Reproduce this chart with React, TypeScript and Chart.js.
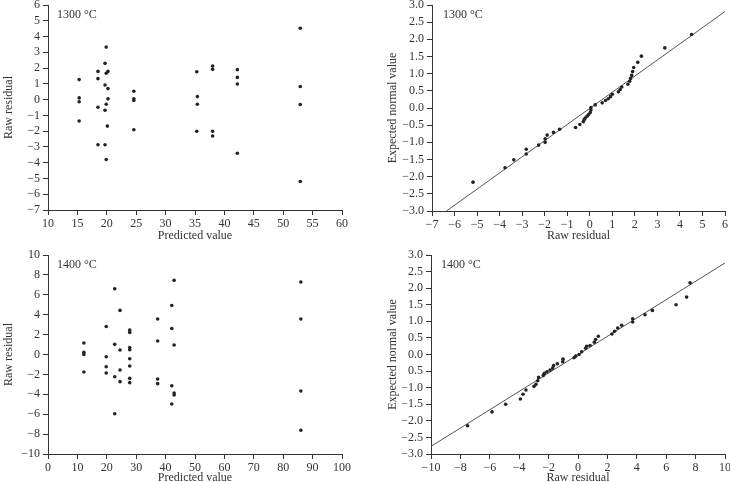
import React, { useEffect, useRef } from "react";
import { Chart, registerables } from "chart.js";
Chart.register(...registerables);

// ---- Panel 1: 1300 °C residual vs predicted ----
const p1X = [15.3, 15.3, 15.3, 15.3, 18.5, 18.5, 18.5, 18.5, 19.9, 19.7, 19.9, 20.2, 19.7, 20.2, 20.2, 19.9, 19.7, 20.1, 19.7, 19.9, 24.6, 24.6, 24.6, 24.6, 35.3, 35.4, 35.4, 35.3, 38.0, 38.0, 38.0, 38.0, 42.2, 42.2, 42.2, 42.2, 52.9, 52.9, 52.9, 52.9];
const p1Y = [1.27, 0.11, -0.14, -1.36, 1.79, 1.33, -0.48, -2.86, 3.33, 2.30, 1.67, 1.79, 0.93, 0.70, 0.05, -0.29, -0.67, -1.68, -2.86, -3.80, 0.53, 0.05, -0.06, -1.91, 1.77, 0.19, -0.29, -2.01, 2.13, 1.92, -2.01, -2.31, 1.90, 1.41, 0.99, -3.40, 4.53, 0.83, -0.31, -5.19];
const p1XTicks = ["10", "15", "20", "25", "30", "35", "40", "45", "50", "55", "60"];
const p1YTicks = ["−7", "−6", "−5", "−4", "−3", "−2", "−1", "0", "1", "2", "3", "4", "5", "6"];

// ---- Panel 2: 1300 °C normal probability plot ----
const p2X = [-5.18, -3.76, -3.37, -2.82, -2.82, -2.27, -1.98, -1.98, -1.89, -1.61, -1.34, -0.63, -0.44, -0.29, -0.25, -0.20, -0.12, -0.05, 0.02, 0.05, 0.05, 0.24, 0.55, 0.70, 0.82, 0.92, 1.00, 1.27, 1.35, 1.42, 1.69, 1.77, 1.81, 1.86, 1.90, 1.95, 2.13, 2.29, 3.33, 4.52];
const p2Y = [-2.16, -1.74, -1.51, -1.34, -1.20, -1.08, -1.00, -0.90, -0.79, -0.71, -0.62, -0.57, -0.48, -0.40, -0.34, -0.29, -0.24, -0.19, -0.13, -0.06, 0.01, 0.09, 0.15, 0.22, 0.27, 0.33, 0.40, 0.47, 0.54, 0.61, 0.69, 0.78, 0.86, 0.95, 1.06, 1.18, 1.33, 1.51, 1.75, 2.14];
const p2LineX = [-6.36, 6.0];
const p2LineY = [-3.0, 2.81];
const p2XTicks = ["−7", "−6", "−5", "−4", "−3", "−2", "−1", "0", "1", "2", "3", "4", "5", "6"];
const p2YTicks = ["−3.0", "−2.5", "−2.0", "−1.5", "−1.0", "−0.5", "0.0", "0.5", "1.0", "1.5", "2.0", "2.5", "3.0"];

// ---- Panel 3: 1400 °C residual vs predicted ----
const p3X = [12.2, 12.2, 12.2, 12.2, 19.8, 19.8, 19.8, 19.8, 22.7, 22.7, 22.7, 22.7, 24.5, 24.5, 24.5, 24.5, 27.8, 27.8, 27.8, 27.8, 27.8, 27.8, 27.8, 27.8, 37.3, 37.3, 37.3, 37.3, 42.1, 42.1, 42.1, 42.1, 42.9, 42.9, 42.9, 42.9, 86.0, 86.0, 86.0, 86.0];
const p3Y = [1.16, 0.21, 0.01, -1.76, 2.82, -0.22, -1.23, -1.86, 6.61, 1.02, -2.23, -5.95, 4.43, 0.45, -1.56, -2.73, 2.46, 2.22, 0.71, 0.48, -0.42, -1.16, -2.40, -2.83, 3.57, 1.36, -2.46, -2.93, 4.93, 2.62, -3.14, -4.97, 7.45, 0.95, -3.87, -4.07, 7.29, 3.57, -3.67, -7.62];
const p3XTicks = ["0", "10", "20", "30", "40", "50", "60", "70", "80", "90", "100"];
const p3YTicks = ["−10", "−8", "−6", "−4", "−2", "0", "2", "4", "6", "8", "10"];

// ---- Panel 4: 1400 °C normal probability plot ----
const p4X = [-7.51, -5.85, -4.92, -3.92, -3.74, -3.54, -2.99, -2.86, -2.74, -2.68, -2.36, -2.29, -2.11, -1.90, -1.72, -1.66, -1.41, -1.04, -1.02, -0.27, -0.16, 0.07, 0.25, 0.52, 0.59, 0.82, 1.11, 1.20, 1.38, 2.31, 2.49, 2.70, 2.97, 3.72, 3.72, 4.56, 5.06, 6.67, 7.39, 7.62];
const p4Y = [-2.15, -1.73, -1.50, -1.34, -1.20, -1.07, -0.96, -0.90, -0.79, -0.69, -0.63, -0.57, -0.52, -0.47, -0.41, -0.33, -0.28, -0.22, -0.14, -0.10, -0.05, 0.00, 0.08, 0.19, 0.25, 0.27, 0.37, 0.45, 0.55, 0.62, 0.70, 0.80, 0.88, 0.98, 1.08, 1.20, 1.33, 1.50, 1.73, 2.16];
const p4LineX = [-10, 10];
const p4LineY = [-2.77, 2.76];
const p4XTicks = ["−10", "−8", "−6", "−4", "−2", "0", "2", "4", "6", "8", "10"];
const p4YTicks = ["−3.0", "−2.5", "−2.0", "−1.5", "−1.0", "0.5", "0.0", "0.5", "1.0", "1.5", "2.0", "2.5", "3.0"];

const FONT = "'Liberation Serif', 'Times New Roman', serif";
const INK = "#333";
const FS = 12;

type PanelCfg = {
  xs: number[]; ys: number[];
  lineX?: number[]; lineY?: number[];
  xMin: number; xMax: number; xStep: number; xTicks: string[];
  yMin: number; yMax: number; yStep: number; yTicks: string[];
  xTitle: string; yTitle: string; label: string;
  box: { left: number; top: number; w: number; h: number };
  yAxisW: number; xAxisH: number; padTop: number; padRight: number;
  yTitlePad: number; xTitlePad: number; labelDx: number; labelDy: number;
};

function buildConfig(c: PanelCfg): any {
  const datasets: any[] = [
    {
      data: c.xs.map((x, i) => ({ x, y: c.ys[i] })),
      pointRadius: 1.8,
      pointBackgroundColor: "#222",
      pointBorderWidth: 0,
      showLine: false,
    },
  ];
  if (c.lineX && c.lineY) {
    datasets.push({
      data: c.lineX.map((x, i) => ({ x, y: c.lineY![i] })),
      showLine: true,
      pointRadius: 0,
      borderColor: "#555",
      borderWidth: 1,
    });
  }
  const fixPad = (scale: any) => {
    scale.paddingTop = 0; scale.paddingBottom = 0; scale.paddingLeft = 0; scale.paddingRight = 0;
  };
  return {
    type: "scatter",
    data: { datasets },
    options: {
      animation: false,
      responsive: false,
      devicePixelRatio: 1,
      layout: { padding: { top: c.padTop, right: c.padRight, left: 0, bottom: 0 } },
      plugins: { legend: { display: false }, tooltip: { enabled: false } },
      scales: {
        x: {
          type: "linear",
          min: c.xMin, max: c.xMax,
          afterFit: (s: any) => { s.height = c.xAxisH; fixPad(s); },
          grid: { drawOnChartArea: false, drawTicks: true, tickLength: 5, color: INK, lineWidth: 1 },
          border: { display: true, color: INK, width: 1 },
          ticks: {
            stepSize: c.xStep, autoSkip: false, maxRotation: 0, padding: 2, maxTicksLimit: 100,
            color: INK, font: { family: FONT, size: FS },
            callback: (_v: any, i: number) => c.xTicks[i],
          },
          title: { display: true, text: c.xTitle, color: INK, font: { family: FONT, size: FS }, padding: { top: 0, bottom: c.xTitlePad } },
        },
        y: {
          type: "linear",
          min: c.yMin, max: c.yMax,
          afterFit: (s: any) => { s.width = c.yAxisW; fixPad(s); },
          grid: { drawOnChartArea: false, drawTicks: true, tickLength: 5, color: INK, lineWidth: 1 },
          border: { display: true, color: INK, width: 1 },
          ticks: {
            stepSize: c.yStep, autoSkip: false, padding: 3, maxTicksLimit: 100,
            color: INK, font: { family: FONT, size: FS },
            callback: (_v: any, i: number) => c.yTicks[i],
          },
          title: { display: true, text: c.yTitle, color: INK, font: { family: FONT, size: FS }, padding: { top: c.yTitlePad, bottom: 0 } },
        },
      },
    },
    plugins: [
      {
        id: "cornerLabel",
        afterDraw(chart: any) {
          const { ctx, chartArea } = chart;
          ctx.save();
          ctx.fillStyle = INK;
          ctx.font = `${FS}px ${FONT}`;
          ctx.textBaseline = "middle";
          ctx.textAlign = "left";
          ctx.fillText(c.label, chartArea.left + c.labelDx, chartArea.top + c.labelDy);
          ctx.restore();
        },
      },
    ],
  };
}

const panels: PanelCfg[] = [
  {
    xs: p1X, ys: p1Y, xMin: 10, xMax: 60, xStep: 5, xTicks: p1XTicks,
    yMin: -7, yMax: 6, yStep: 1, yTicks: p1YTicks,
    xTitle: "Predicted value", yTitle: "Raw residual", label: "1300 °C",
    box: { left: 0, top: -10, w: 360, h: 260 },
    yAxisW: 48, xAxisH: 40, padTop: 15, padRight: 18, yTitlePad: 1.8, xTitlePad: 6.8, labelDx: 9, labelDy: 10,
  },
  {
    xs: p2X, ys: p2Y, lineX: p2LineX, lineY: p2LineY,
    xMin: -7, xMax: 6, xStep: 1, xTicks: p2XTicks,
    yMin: -3, yMax: 3, yStep: 0.5, yTicks: p2YTicks,
    xTitle: "Raw residual", yTitle: "Expected normal value", label: "1300 °C",
    box: { left: 365, top: -10, w: 365, h: 260 },
    yAxisW: 67, xAxisH: 39, padTop: 15, padRight: 5, yTitlePad: 20.8, xTitlePad: 6.8, labelDx: 11, labelDy: 10,
  },
  {
    xs: p3X, ys: p3Y, xMin: 0, xMax: 100, xStep: 10, xTicks: p3XTicks,
    yMin: -10, yMax: 10, yStep: 2, yTicks: p3YTicks,
    xTitle: "Predicted value", yTitle: "Raw residual", label: "1400 °C",
    box: { left: 0, top: 240, w: 360, h: 260 },
    yAxisW: 48, xAxisH: 46, padTop: 15, padRight: 18, yTitlePad: 1.4, xTitlePad: 14.8, labelDx: 9, labelDy: 10,
  },
  {
    xs: p4X, ys: p4Y, lineX: p4LineX, lineY: p4LineY,
    xMin: -10, xMax: 10, xStep: 2, xTicks: p4XTicks,
    yMin: -3, yMax: 3, yStep: 0.5, yTicks: p4YTicks,
    xTitle: "Raw residual", yTitle: "Expected normal value", label: "1400 °C",
    box: { left: 365, top: 240, w: 365, h: 260 },
    yAxisW: 66, xAxisH: 46, padTop: 15, padRight: 5, yTitlePad: 20.8, xTitlePad: 14.8, labelDx: 10, labelDy: 10,
  },
];

function Panel({ cfg }: { cfg: PanelCfg }) {
  const ref = useRef<HTMLCanvasElement>(null);
  useEffect(() => {
    const chart = new Chart(ref.current as HTMLCanvasElement, buildConfig(cfg));
    return () => chart.destroy();
  }, [cfg]);
  const b = cfg.box;
  return (
    <div style={{ position: "absolute", left: b.left, top: b.top, width: b.w, height: b.h }}>
      <canvas ref={ref} width={b.w} height={b.h} style={{ display: "block", width: b.w, height: b.h }} />
    </div>
  );
}

export default function App() {
  return (
    <div style={{ position: "fixed", left: 0, top: 0, width: 730, height: 482, overflow: "hidden", background: "#fff" }}>
      {panels.map((p, i) => (
        <Panel key={i} cfg={p} />
      ))}
    </div>
  );
}
